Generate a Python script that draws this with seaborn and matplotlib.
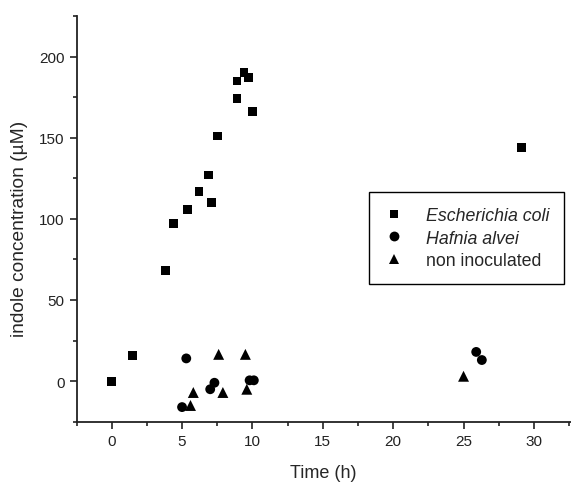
import pandas as pd
import seaborn as sns
import matplotlib.pyplot as plt
from matplotlib.ticker import MultipleLocator

# values
ecoli_t = [0, 1.5, 3.8, 4.4, 5.4, 6.2, 6.9, 7.1, 7.5, 8.9, 8.9, 9.4, 9.7, 10.0, 29.1]
ecoli_c = [0, 16, 68, 97, 106, 117, 127, 110, 151, 174, 185, 190, 187, 166, 144]

hafnia_t = [5.0, 5.3, 7.0, 7.3, 9.8, 10.1, 25.9, 26.3]
hafnia_c = [-16, 14, -5, -1, 0.5, 0.5, 18, 13]

noninoc_t = [5.6, 5.8, 7.6, 7.9, 9.5, 9.6, 25.0]
noninoc_c = [-15, -7, 16.5, -7, 16.5, -5, 3]

labels = ["Escherichia coli", "Hafnia alvei", "non inoculated"]

df = pd.DataFrame({
    "t": ecoli_t + hafnia_t + noninoc_t,
    "c": ecoli_c + hafnia_c + noninoc_c,
    "group": [labels[0]] * len(ecoli_t) + [labels[1]] * len(hafnia_t) + [labels[2]] * len(noninoc_t),
})

sns.set_style("ticks")
plt.rcParams["font.family"] = ["Liberation Sans", "DejaVu Sans"]

fig = plt.figure(figsize=(5.71, 4.85), dpi=100)
ax = fig.add_axes([76.5 / 571, 1 - 422.7 / 485, 494 / 571, 405.7 / 485])

markers = {labels[0]: "s", labels[1]: "o", labels[2]: "^"}
sizes = {labels[0]: 40, labels[1]: 50, labels[2]: 62}
sns.scatterplot(data=df, x="t", y="c", style="group", size="group", markers=markers,
                sizes=sizes, color="black", edgecolor="black", linewidth=0, ax=ax)

ax.set_xlim(-2.5, 32.6)
ax.set_ylim(-25, 225)
ax.xaxis.set_major_locator(MultipleLocator(5))
ax.xaxis.set_minor_locator(MultipleLocator(2.5))
ax.yaxis.set_major_locator(MultipleLocator(50))
ax.yaxis.set_minor_locator(MultipleLocator(25))

for s in ["top", "right"]:
    ax.spines[s].set_visible(False)
for s in ["left", "bottom"]:
    ax.spines[s].set_linewidth(1.3)
    ax.spines[s].set_color("#222222")
ax.tick_params(which="major", length=5, width=1.2, color="#222222", labelsize=11, labelcolor="#222222")
ax.tick_params(which="minor", length=3, width=1.2, color="#222222")

ax.set_xlabel("Time (h)", fontsize=13, labelpad=12)
ax.set_ylabel("indole concentration (\u00b5M)", fontsize=13.8)
ax.yaxis.set_label_coords(-0.098, 0.477)

leg = ax.legend(loc="upper left", bbox_to_anchor=(0.592, 0.566), fontsize=12.8,
                frameon=True, fancybox=False, edgecolor="black", framealpha=1,
                borderpad=0.85, handlelength=1.1, handletextpad=1.25, labelspacing=0.3,
                borderaxespad=0)
leg.get_frame().set_linewidth(1.0)
for txt in leg.get_texts()[:2]:
    txt.set_fontstyle("italic")

fig.savefig("out.png", dpi=100)
